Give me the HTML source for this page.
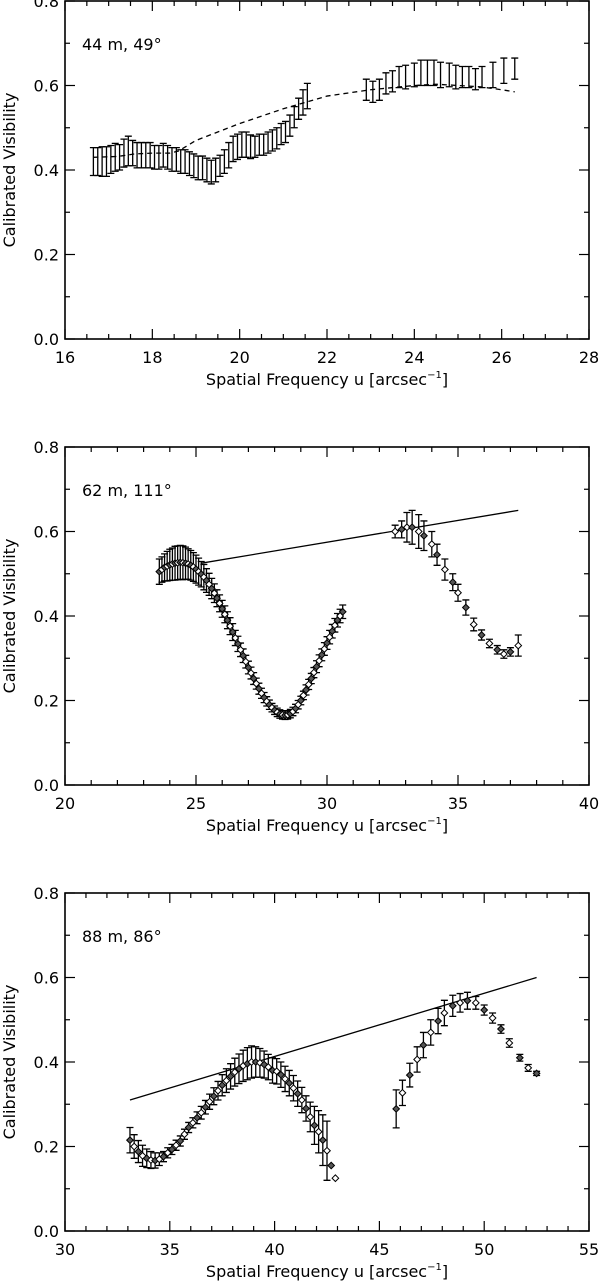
<!DOCTYPE html>
<html><head><meta charset="utf-8"><style>
html,body{margin:0;padding:0;background:#fff;}
svg{display:block;font-family:"DejaVu Sans","Liberation Sans",sans-serif;}
</style></head><body>
<svg id="chart" width="600" height="1287" viewBox="0 0 600 1287" xmlns="http://www.w3.org/2000/svg"></svg>
<script>
// ---- Panel 1 data (44 m, 49 deg) ----
const p1U = [16.65,16.75,16.85,16.95,17.05,17.15,17.25,17.35,17.45,17.55,17.65,17.75,17.85,17.95,18.05,18.15,18.25,18.35,18.45,18.55,18.65,18.75,18.85,18.95,19.05,19.15,19.25,19.35,19.45,19.55,19.65,19.75,19.85,19.95,20.05,20.15,20.25,20.35,20.45,20.55,20.65,20.75,20.85,20.95,21.05,21.15,21.25,21.35,21.45,21.55,
 22.9,23.05,23.2,23.35,23.5,23.65,23.8,24.0,24.15,24.3,24.45,24.6,24.8,24.95,25.1,25.25,25.4,25.55,25.8,26.05,26.3];
const p1V = [0.42,0.42,0.42,0.42,0.425,0.43,0.43,0.44,0.445,0.44,0.435,0.435,0.435,0.435,0.43,0.43,0.435,0.43,0.425,0.425,0.42,0.42,0.415,0.41,0.405,0.405,0.40,0.395,0.40,0.41,0.42,0.435,0.45,0.455,0.46,0.46,0.455,0.455,0.46,0.46,0.465,0.47,0.475,0.485,0.49,0.505,0.525,0.545,0.56,0.575,
 0.59,0.585,0.59,0.605,0.61,0.62,0.62,0.625,0.63,0.63,0.63,0.625,0.625,0.62,0.62,0.62,0.615,0.62,0.625,0.635,0.64];
const p1E = [0.033,0.033,0.035,0.035,0.033,0.033,0.03,0.033,0.035,0.03,0.03,0.03,0.03,0.03,0.028,0.028,0.028,0.028,0.028,0.028,0.028,0.028,0.028,0.028,0.028,0.028,0.028,0.028,0.028,0.025,0.028,0.03,0.03,0.03,0.03,0.03,0.028,0.025,0.025,0.025,0.025,0.025,0.025,0.025,0.025,0.025,0.025,0.025,0.03,0.03,
 0.025,0.025,0.025,0.025,0.025,0.025,0.028,0.028,0.03,0.03,0.03,0.03,0.028,0.028,0.025,0.025,0.025,0.025,0.03,0.03,0.025];
const p1ModelU = [16.65,17.2,17.6,18.0,18.4,18.6,19.0,20.0,21.0,21.5,22.0,23.0,24.0,24.5,25.0,25.5,26.0,26.3];
const p1ModelV = [0.43,0.432,0.438,0.44,0.44,0.445,0.47,0.51,0.545,0.56,0.575,0.59,0.60,0.603,0.60,0.597,0.59,0.585];

// ---- Panel 2 data (62 m, 111 deg) ----
const p2U = [23.6,23.7,23.8,23.9,24.0,24.1,24.2,24.3,24.4,24.5,24.6,24.7,24.8,24.9,25.0,25.1,25.2,25.3,25.4,25.5,25.6,25.7,25.8,25.9,26.0,26.1,26.2,26.3,26.4,26.5,26.6,26.7,26.8,26.9,27.0,27.1,27.2,27.3,27.4,27.5,27.6,27.7,27.8,27.9,28.0,28.1,28.2,28.3,28.4,28.5,28.6,28.7,28.8,28.9,29.0,29.1,29.2,29.3,29.4,29.5,29.6,29.7,29.8,29.9,30.0,30.1,30.2,30.3,30.4,30.5,30.6,
 32.6,32.85,33.05,33.25,33.5,33.7,34.0,34.2,34.5,34.8,35.0,35.3,35.6,35.9,36.2,36.5,36.75,37.0,37.3];
const p2V = [0.505,0.51,0.515,0.518,0.521,0.523,0.525,0.526,0.527,0.526,0.525,0.523,0.52,0.516,0.511,0.505,0.499,0.492,0.484,0.475,0.465,0.454,0.442,0.43,0.417,0.404,0.39,0.376,0.362,0.348,0.334,0.32,0.306,0.292,0.278,0.265,0.252,0.24,0.228,0.217,0.207,0.198,0.19,0.183,0.177,0.172,0.168,0.166,0.165,0.166,0.169,0.174,0.181,0.19,0.2,0.212,0.225,0.238,0.252,0.266,0.28,0.294,0.308,0.322,0.336,0.35,0.364,0.378,0.39,0.40,0.41,
 0.60,0.605,0.61,0.61,0.60,0.59,0.57,0.545,0.51,0.48,0.455,0.42,0.38,0.355,0.335,0.32,0.31,0.315,0.33];
const p2E = [0.03,0.03,0.032,0.035,0.037,0.038,0.04,0.04,0.04,0.04,0.038,0.036,0.035,0.034,0.033,0.032,0.03,0.03,0.028,0.026,0.024,0.022,0.02,0.02,0.02,0.02,0.02,0.02,0.02,0.018,0.018,0.016,0.016,0.015,0.015,0.014,0.014,0.013,0.013,0.012,0.012,0.011,0.011,0.01,0.01,0.01,0.01,0.01,0.01,0.01,0.01,0.01,0.01,0.01,0.01,0.01,0.012,0.012,0.012,0.012,0.014,0.014,0.014,0.015,0.015,0.016,0.016,0.016,0.016,0.016,0.016,
 0.015,0.02,0.035,0.04,0.04,0.035,0.03,0.025,0.025,0.02,0.02,0.018,0.015,0.012,0.01,0.01,0.01,0.01,0.025];
const p2LineU = [25.2,37.3];
const p2LineV = [0.525,0.65];

// ---- Panel 3 data (88 m, 86 deg) ----
const p3U = [33.1,33.3,33.5,33.7,33.9,34.1,34.3,34.5,34.7,34.9,35.1,35.3,35.5,35.7,35.9,36.1,36.3,36.5,36.7,36.9,37.1,37.3,37.5,37.7,37.9,38.1,38.3,38.5,38.7,38.9,39.1,39.3,39.5,39.7,39.9,40.1,40.3,40.5,40.7,40.9,41.1,41.3,41.5,41.7,41.9,42.1,42.3,42.5,42.7,42.9,
 45.8,46.1,46.45,46.8,47.1,47.45,47.8,48.1,48.5,48.85,49.2,49.6,50.0,50.4,50.8,51.2,51.7,52.1,52.5];
const p3V = [0.215,0.20,0.188,0.178,0.172,0.168,0.167,0.17,0.176,0.185,0.193,0.203,0.213,0.229,0.245,0.256,0.268,0.28,0.293,0.306,0.319,0.332,0.345,0.356,0.366,0.376,0.384,0.391,0.396,0.40,0.40,0.398,0.394,0.388,0.38,0.378,0.37,0.36,0.35,0.338,0.325,0.31,0.29,0.27,0.25,0.235,0.215,0.19,0.155,0.125,
 0.289,0.327,0.369,0.406,0.44,0.47,0.497,0.516,0.533,0.54,0.545,0.54,0.523,0.504,0.478,0.445,0.41,0.386,0.373];
const p3E = [0.03,0.028,0.026,0.025,0.022,0.02,0.018,0.015,0.012,0.012,0.012,0.012,0.012,0.012,0.012,0.012,0.014,0.015,0.016,0.018,0.02,0.022,0.025,0.028,0.03,0.033,0.035,0.037,0.038,0.038,0.036,0.034,0.032,0.03,0.03,0.03,0.03,0.03,0.03,0.03,0.03,0.03,0.03,0.035,0.045,0.05,0.06,0.07,0,0,
 0.045,0.03,0.028,0.03,0.03,0.03,0.03,0.03,0.025,0.022,0.02,0.015,0.012,0.012,0.01,0.01,0.008,0.008,0.005];
const p3LineU = [33.1,52.5];
const p3LineV = [0.31,0.60];

const yTicks = ["0.0","0.2","0.4","0.6","0.8"];
const p1XTicks = [16,18,20,22,24,26,28];
const p2XTicks = [20,25,30,35,40];
const p3XTicks = [30,35,40,45,50,55];

const NS = "http://www.w3.org/2000/svg";
const svg = document.getElementById("chart");
function mk(tag, attrs, parent){ const e=document.createElementNS(NS,tag); for(const k in attrs) e.setAttribute(k,attrs[k]); (parent||svg).appendChild(e); return e; }

function panel(cfg){
  const L=65,R=589,T=cfg.top,B=cfg.top+338;
  const g=mk("g",{});
  
  
  const xs=u=>L+(u-cfg.xmin)/(cfg.xmax-cfg.xmin)*(R-L);
  const ys=v=>B-v/0.8*(B-T);
  const frame=mk("rect",{x:L,y:T,width:R-L,height:B-T,fill:"none",stroke:"#000","stroke-width":1.6},g);
  
  
  for(let u=cfg.xmin; u<=cfg.xmax+1e-9; u+=cfg.minor){
    const major=Math.abs((u-cfg.xmin)/cfg.major-Math.round((u-cfg.xmin)/cfg.major))<1e-6;
    const len=major?10:5, x=xs(u);
    mk("line",{x1:x,y1:B,x2:x,y2:B-len,stroke:"#000","stroke-width":1.2},g);
    mk("line",{x1:x,y1:T,x2:x,y2:T+len,stroke:"#000","stroke-width":1.2},g);
  }
  cfg.xt.forEach(t=>{
    const tx=mk("text",{x:xs(t),y:B+24,"font-size":16,"text-anchor":"middle"},g);
    tx.textContent=t;
    
    
  });
  for(let i=0;i<=8;i++){
    const v=i*0.1,y=ys(v),len=(i%2==0)?10:5;
    mk("line",{x1:L,y1:y,x2:L+len,y2:y,stroke:"#000","stroke-width":1.2},g);
    mk("line",{x1:R,y1:y,x2:R-len,y2:y,stroke:"#000","stroke-width":1.2},g);
  }
  yTicks.forEach(t=>{
    const ty=mk("text",{x:L-6,y:ys(parseFloat(t))+6,"font-size":16,"text-anchor":"end"},g);
    ty.textContent=t;
    
    
  });
  const xt=mk("text",{x:(L+R)/2,y:B+46,"font-size":16,"text-anchor":"middle"},g);
  xt.innerHTML='Spatial Frequency u [arcsec<tspan dy="-7" font-size="10">−1</tspan><tspan dy="7">]</tspan>';
  
  
  const yt=mk("text",{x:0,y:0,"font-size":16,"text-anchor":"middle",transform:`translate(15,${(T+B)/2}) rotate(-90)`},g);
  yt.textContent="Calibrated Visibility";
  
  
  const lab=mk("text",{x:82,y:T+49,"font-size":16},g);
  lab.textContent=cfg.label;
  
  
  cfg.U.forEach((u,i)=>{
    const e=cfg.E[i]; if(!e) return;
    const x=xs(u),y1=ys(cfg.V[i]-e),y2=ys(cfg.V[i]+e);
    const eb=mk("path",{d:`M${x},${y1}V${y2}M${x-3.5},${y1}h7M${x-3.5},${y2}h7`,stroke:"#000","stroke-width":1.3,fill:"none"},g);
    
    
  });
  const pts=cfg.MU.map((u,i)=>xs(u)+","+ys(cfg.MV[i])).join(" ");
  const ml=mk("polyline",{points:pts,fill:"none",stroke:"#000","stroke-width":1.3,"stroke-dasharray":cfg.dash||"none"},g);
  
  
  if(cfg.markers){
    cfg.U.forEach((u,i)=>{
      const x=xs(u),y=ys(cfg.V[i]),s=3.3;
      const d=mk("path",{d:`M${x},${y-s}L${x+s},${y}L${x},${y+s}L${x-s},${y}Z`,fill:i%2?"#fff":"#555",stroke:"#000","stroke-width":1},g);
      
      
    });
  }
}
panel({name:"panel-44m",top:1,xmin:16,xmax:28,major:2,minor:0.5,xt:p1XTicks,U:p1U,V:p1V,E:p1E,MU:p1ModelU,MV:p1ModelV,dash:"5,4",label:"44 m, 49°",markers:false});
panel({name:"panel-62m",top:447,xmin:20,xmax:40,major:5,minor:1,xt:p2XTicks,U:p2U,V:p2V,E:p2E,MU:p2LineU,MV:p2LineV,label:"62 m, 111°",markers:true});
panel({name:"panel-88m",top:893,xmin:30,xmax:55,major:5,minor:1,xt:p3XTicks,U:p3U,V:p3V,E:p3E,MU:p3LineU,MV:p3LineV,label:"88 m, 86°",markers:true});
</script>
</body></html>
